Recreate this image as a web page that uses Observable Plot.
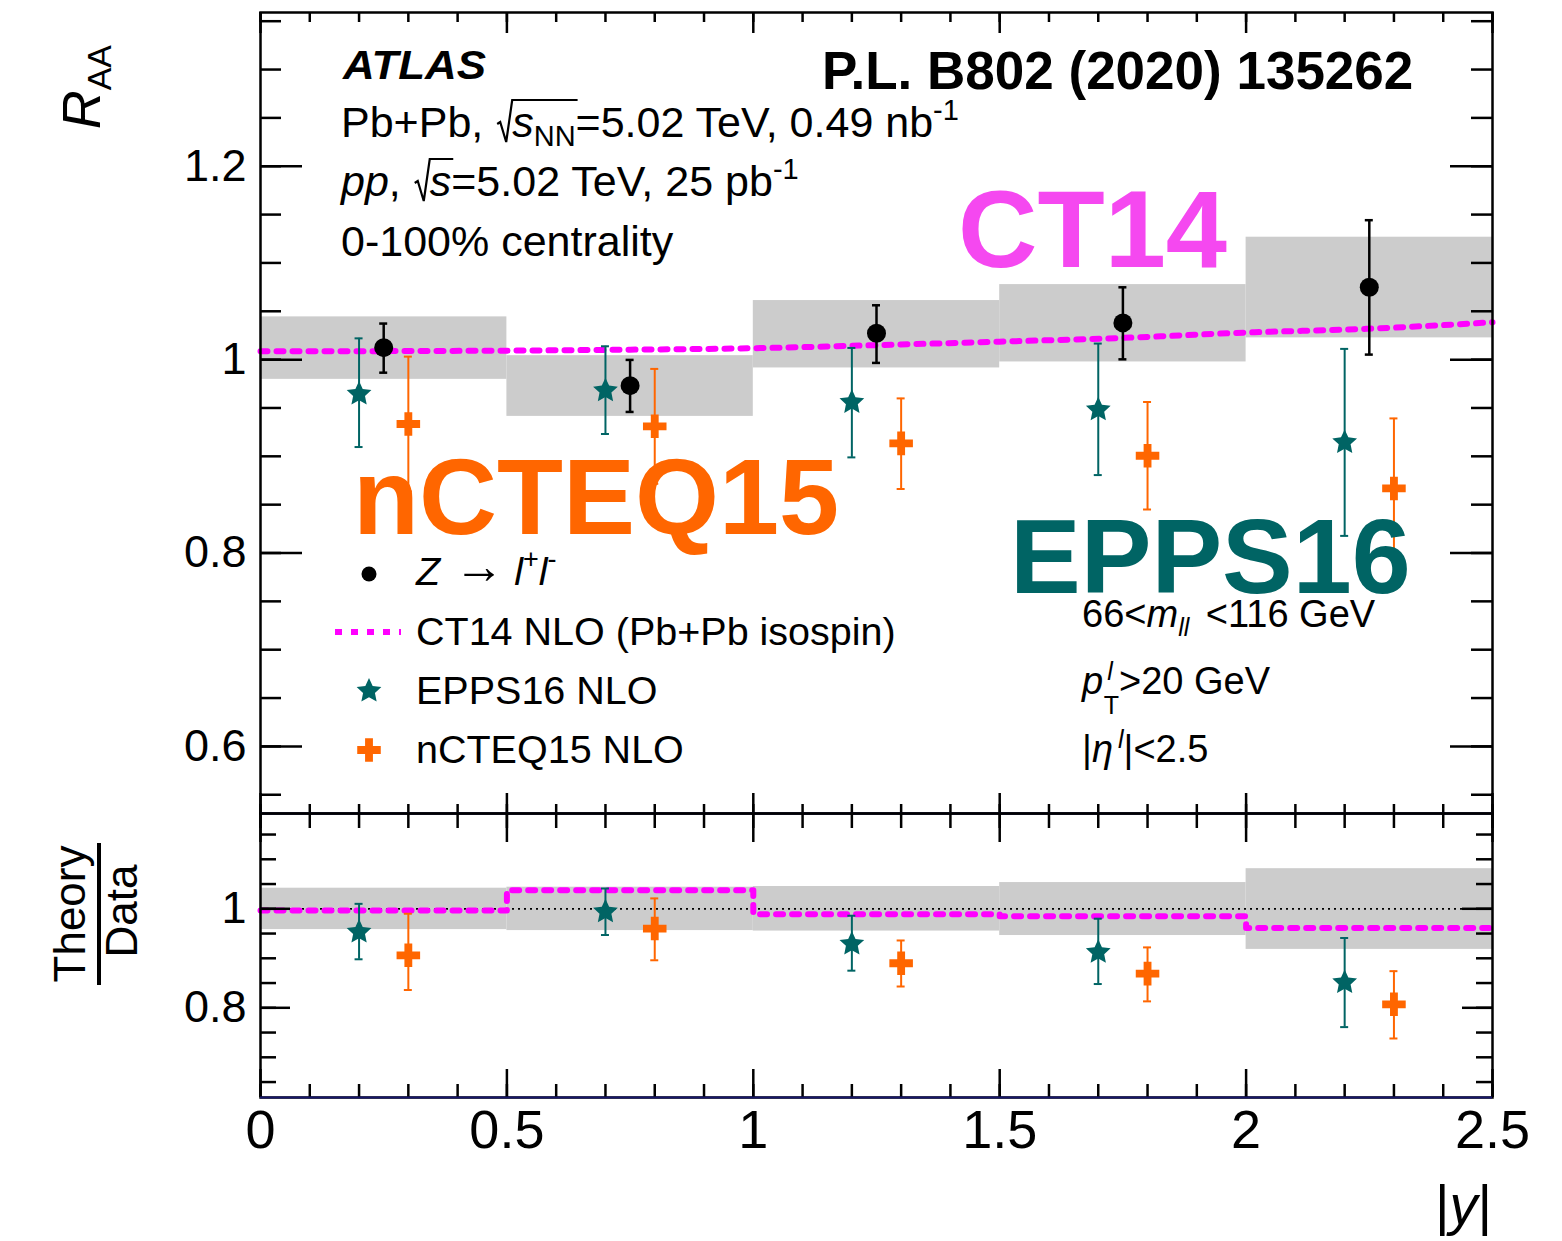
<!DOCTYPE html>
<html>
<head>
<meta charset="utf-8">
<script src="https://cdn.jsdelivr.net/npm/d3@7"></script>
<script src="https://cdn.jsdelivr.net/npm/@observablehq/plot@0.6"></script>
<style>
  body { margin: 0; background: #fff; }
  #chart { position: relative; width: 1562px; height: 1241px; font-family: "Liberation Sans", Arial, Helvetica, sans-serif; }
  #chart > svg { position: absolute; left: 0; overflow: visible; }
</style>
</head>
<body>
<div id="chart"></div>
<script>
// |y| bins of the Z boson measurement
const binLo = [0, 0.5, 1.0, 1.5, 2.0];
const binHi = [0.5, 1.0, 1.5, 2.0, 2.5];
const dataX = [0.25, 0.75, 1.25, 1.75, 2.25];
const eppsX = [0.2, 0.7, 1.2, 1.7, 2.2];
const ncteqX = [0.3, 0.8, 1.3, 1.8, 2.3];

// Z -> l+l- R_AA with statistical (bars) and systematic (boxes) uncertainties
const raa = [1.0124, 0.9731, 1.0272, 1.0380, 1.0748];
const raaStatLo = [0.9865, 0.9459, 0.9966, 1.0003, 1.0052];
const raaStatHi = [1.0373, 0.9997, 1.0562, 1.0748, 1.1442];
const raaSysLo = [0.9796, 0.9413, 0.9914, 0.9976, 1.0225];
const raaSysHi = [1.0442, 1.0041, 1.0611, 1.0776, 1.1266];

// CT14 NLO (Pb+Pb isospin) curve
const ct14X = [0, 0.25, 0.5, 0.75, 1.0, 1.25, 1.5, 1.75, 2.0, 2.25, 2.5];
const ct14Raa = [1.0086, 1.0088, 1.0093, 1.0103, 1.0118, 1.0150, 1.0186, 1.0225, 1.0280, 1.0320, 1.0386];

// EPPS16 NLO predictions
const epps = [0.9645, 0.9679, 0.9558, 0.9482, 0.9144];
const eppsLo = [0.9096, 0.9231, 0.8989, 0.8806, 0.8177];
const eppsHi = [1.0220, 1.0138, 1.0121, 1.0166, 1.0111];

// nCTEQ15 NLO predictions
const ncteq = [0.9334, 0.9310, 0.9134, 0.9006, 0.8668];
const ncteqLo = [0.8637, 0.8716, 0.8662, 0.8450, 0.7944];
const ncteqHi = [1.0031, 0.9904, 0.9599, 0.9562, 0.9392];

// Theory / Data ratios
const ratioSysLo = [0.958, 0.956, 0.955, 0.946, 0.918];
const ratioSysHi = [1.0416, 1.0436, 1.045, 1.053, 1.081];
const ct14Ratio = [0.9966, 1.0377, 0.989, 0.985, 0.961];
const eppsRatio = [0.953, 0.994, 0.929, 0.912, 0.851];
const eppsRatioLo = [0.898, 0.947, 0.875, 0.848, 0.761];
const eppsRatioHi = [1.010, 1.041, 0.986, 0.980, 0.941];
const ncteqRatio = [0.906, 0.960, 0.890, 0.869, 0.807];
const ncteqRatioLo = [0.836, 0.896, 0.843, 0.813, 0.738];
const ncteqRatioHi = [0.990, 1.021, 0.936, 0.922, 0.874];

// Axis ticks and labels
const xMajor = [0, 0.5, 1, 1.5, 2, 2.5];
const xMinor = d3.range(0, 2.55, 0.1);
const topYLabels = [0.6, 0.8, 1, 1.2];
const topYMinor = d3.range(0.55, 1.355, 0.05);
const botYLabels = [0.8, 1];
const botYMinor = d3.range(0.65, 1.155, 0.05);

// layout
const W = 1562, H = 1241;
const mL = 260, mR = 70;
const pw = W - mL - mR;
const topH = 813, topMT = 12;
const botTop = 813, botH = H - botTop, botMB = 144;
const topDomain = [0.5306, 1.359];
const botDomain = [0.6188, 1.1925];
const FONT = '"Liberation Sans", Arial, Helvetica, sans-serif';

const BLACK = "#000000", TEAL = "#006464", ORANGE = "#ff6600", MAGENTA = "#ff00ff", GREY = "#cccccc";
const AXISLINE = "#16166a";

// five-pointed star with broad arms, r is the outer radius
const fatStar = {
  draw(context, size) {
    const R = Math.sqrt(size / Math.PI), r = R * 0.48;
    for (let i = 0; i < 10; i++) {
      const a = Math.PI * i / 5 - Math.PI / 2, rad = i % 2 ? r : R;
      const x = rad * Math.cos(a), y = rad * Math.sin(a);
      if (i) context.lineTo(x, y); else context.moveTo(x, y);
    }
    context.closePath();
  }
};
const STAR_R = 13, CROSS_R = 9.9, DOT_R = 9.5;

const rowsOf = (xs, c, lo, hi) => xs.map((x, i) => ({x, y: c[i], lo: lo[i], hi: hi[i]}));
const binsOf = (lo, hi) => binLo.map((x1, i) => ({x1, x2: binHi[i], lo: lo[i], hi: hi[i]}));

function series(rows, color, symbol, r, sw) {
  return [
    Plot.ruleX(rows, {x: "x", y1: "lo", y2: "hi", stroke: color, strokeWidth: sw}),
    Plot.ruleY(rows, {y: "lo", x1: "x", x2: "x", insetLeft: -4, insetRight: -4, stroke: color, strokeWidth: sw}),
    Plot.ruleY(rows, {y: "hi", x1: "x", x2: "x", insetLeft: -4, insetRight: -4, stroke: color, strokeWidth: sw}),
    Plot.dot(rows, {x: "x", y: "y", symbol, r, fill: color, stroke: "none"})
  ];
}

function frameTicks(ph, yMinor, yMajor, yMinLen, yMajLen, xTopMin, xTopMaj, xBotMin, xBotMaj) {
  const k = {stroke: BLACK, strokeWidth: 2.5};
  return [
    Plot.tickY(yMinor, {y: d => d, insetRight: pw - yMinLen, ...k}),
    Plot.tickY(yMajor, {y: d => d, insetRight: pw - yMajLen, ...k}),
    Plot.tickY(yMinor, {y: d => d, insetLeft: pw - yMinLen, ...k}),
    Plot.tickY(yMajor, {y: d => d, insetLeft: pw - yMajLen, ...k}),
    Plot.tickX(xMinor, {x: d => d, insetBottom: ph - xTopMin, ...k}),
    Plot.tickX(xMajor, {x: d => d, insetBottom: ph - xTopMaj, ...k}),
    Plot.tickX(xMinor, {x: d => d, insetTop: ph - xBotMin, ...k}),
    Plot.tickX(xMajor, {x: d => d, insetTop: ph - xBotMaj, ...k})
  ];
}

const chart = document.getElementById("chart");

// ---------- upper panel: R_AA ----------
const topPanel = Plot.plot({
  width: W, height: topH,
  marginLeft: mL, marginRight: mR, marginTop: topMT, marginBottom: 0,
  style: {fontFamily: FONT, background: "transparent", color: "black", overflow: "visible"},
  x: {domain: [0, 2.5], axis: null},
  y: {domain: topDomain},
  marks: [
    Plot.rect(binsOf(raaSysLo, raaSysHi), {x1: "x1", x2: "x2", y1: "lo", y2: "hi", fill: GREY}),
    Plot.line(ct14X.map((x, i) => ({x, y: ct14Raa[i]})), {x: "x", y: "y", stroke: MAGENTA, strokeWidth: 6, strokeDasharray: "7,9", curve: "monotone-x"}),
    ...series(rowsOf(eppsX, epps, eppsLo, eppsHi), TEAL, fatStar, STAR_R, 2),
    ...series(rowsOf(ncteqX, ncteq, ncteqLo, ncteqHi), ORANGE, "cross", CROSS_R, 2),
    ...series(rowsOf(dataX, raa, raaStatLo, raaStatHi), BLACK, "circle", DOT_R, 2.5),
    ...frameTicks(topH - topMT, topYMinor, topYLabels, 21, 42, 10, 21, 9, 20),
    Plot.axisY({ticks: topYLabels, tickSize: 0, tickPadding: 14, fontSize: 45, tickFormat: d => String(d), label: null}),
    Plot.frame({stroke: BLACK, strokeWidth: 2.5}),
    Plot.ruleY([topDomain[0]], {stroke: AXISLINE, strokeWidth: 2})
  ]
});
topPanel.style.top = "0px";
chart.appendChild(topPanel);

// ---------- lower panel: Theory / Data ----------
const stepRows = binLo.concat([binHi[binHi.length - 1]]).map((x, i) => ({x, y: ct14Ratio[Math.min(i, ct14Ratio.length - 1)]}));
const botPanel = Plot.plot({
  width: W, height: botH,
  marginLeft: mL, marginRight: mR, marginTop: 0, marginBottom: botMB,
  style: {fontFamily: FONT, background: "transparent", color: "black", overflow: "visible"},
  x: {domain: [0, 2.5]},
  y: {domain: botDomain},
  marks: [
    Plot.rect(binsOf(ratioSysLo, ratioSysHi), {x1: "x1", x2: "x2", y1: "lo", y2: "hi", fill: GREY}),
    Plot.ruleY([1], {stroke: BLACK, strokeWidth: 1.8, strokeDasharray: "2,4"}),
    Plot.line(stepRows, {x: "x", y: "y", stroke: MAGENTA, strokeWidth: 6, strokeDasharray: "7,9", curve: "step-after"}),
    ...series(rowsOf(eppsX, eppsRatio, eppsRatioLo, eppsRatioHi), TEAL, fatStar, STAR_R, 2),
    ...series(rowsOf(ncteqX, ncteqRatio, ncteqRatioLo, ncteqRatioHi), ORANGE, "cross", CROSS_R, 2),
    ...frameTicks(botH - botMB, botYMinor, botYLabels, 16, 30, 15, 29, 13, 28),
    Plot.axisY({ticks: botYLabels, tickSize: 0, tickPadding: 14, fontSize: 45, tickFormat: d => String(d), label: null}),
    Plot.axisX({ticks: xMajor, tickSize: 0, tickPadding: 12, fontSize: 54, tickFormat: d => String(d), label: null}),
    Plot.frame({stroke: BLACK, strokeWidth: 2.5}),
    Plot.ruleY([botDomain[0]], {stroke: AXISLINE, strokeWidth: 2})
  ]
});
botPanel.style.top = botTop + "px";
chart.appendChild(botPanel);

// ---------- labels, legend and annotations ----------
const ov = d3.select(chart).append("svg")
  .attr("width", W).attr("height", H)
  .style("top", "0px").style("pointer-events", "none")
  .attr("font-family", FONT);

ov.html(`
  <text x="343" y="79" font-size="40" font-weight="bold" font-style="italic" textLength="143" lengthAdjust="spacingAndGlyphs">ATLAS</text>
  <text x="822" y="89" font-size="53" font-weight="bold">P.L. B802 (2020) 135262</text>
  <text id="l1" x="341" y="137" font-size="43">Pb+Pb, <tspan dx="17" font-style="italic">s</tspan><tspan font-size="29" dy="9">NN</tspan><tspan dy="-9">=5.02 TeV, 0.49 nb</tspan><tspan font-size="29" dy="-17">-1</tspan></text>
  <text id="l2" x="341" y="196" font-size="43"><tspan font-style="italic">pp</tspan>, <tspan dx="17" font-style="italic">s</tspan>=5.02 TeV, 25 pb<tspan font-size="29" dy="-17">-1</tspan></text>
  <text x="341" y="256" font-size="43">0-100% centrality</text>

  <text x="958" y="267" font-size="110" font-weight="bold" fill="#f548f0">CT14</text>
  <text x="353" y="534" font-size="108" font-weight="bold" fill="${ORANGE}">nCTEQ15</text>
  <text x="1010" y="593" font-size="106" font-weight="bold" fill="${TEAL}">EPPS16</text>

  <text x="416" y="585" font-size="39.5"><tspan font-style="italic">Z</tspan><tspan dx="14" font-size="50" dy="-2">→</tspan><tspan dx="10" dy="2" font-style="italic">l</tspan><tspan font-size="27" dy="-17">+</tspan><tspan font-style="italic" dy="17">l</tspan><tspan font-size="27" dy="-17">-</tspan></text>
  <text x="416" y="645" font-size="39.5">CT14 NLO (Pb+Pb isospin)</text>
  <text x="416" y="704" font-size="39.5">EPPS16 NLO</text>
  <text x="416" y="763" font-size="39.5">nCTEQ15 NLO</text>

  <text x="1082" y="627" font-size="38">66&lt;<tspan font-style="italic">m</tspan><tspan font-style="italic" font-size="25" dy="9">ll</tspan><tspan dx="6" dy="-9"> &lt;116 GeV</tspan></text>
  <text x="1082" y="694" font-size="38"><tspan font-style="italic">p</tspan><tspan font-style="italic" font-size="25" dx="4" dy="-14">l</tspan><tspan font-size="25" dx="-9" dy="34">T</tspan><tspan dy="-20">&gt;20 GeV</tspan></text>
  <text x="1082" y="762" font-size="38">|<tspan font-style="italic">η</tspan><tspan font-style="italic" font-size="25" dx="5" dy="-14">l</tspan><tspan dy="14">|&lt;2.5</tspan></text>

  <text transform="translate(100,45) rotate(-90)" text-anchor="end" font-size="54"><tspan font-style="italic">R</tspan><tspan font-size="34" dy="11">AA</tspan></text>
  <text transform="translate(85,914) rotate(-90)" text-anchor="middle" font-size="44">Theory</text>
  <text transform="translate(137,911) rotate(-90)" text-anchor="middle" font-size="44">Data</text>
  <text x="1492" y="1224" text-anchor="end" font-size="56">|<tspan font-style="italic">y</tspan>|</text>
`);

// fraction bar of the ratio-panel title
ov.append("line").attr("x1", 99).attr("x2", 99).attr("y1", 843).attr("y2", 985)
  .attr("stroke", BLACK).attr("stroke-width", 4);

// square-root signs drawn in front of s_NN and s
function radical(id, iFirst, iLast) {
  const t = ov.select("#" + id).node();
  const p = t.getStartPositionOfChar(iFirst);
  const e = t.getEndPositionOfChar(iLast);
  const by = +t.getAttribute("y");
  const xs = p.x - 1;
  ov.append("path")
    .attr("d", `M${xs - 14},${by - 13} L${xs - 11},${by - 15} L${xs - 5},${by + 5} L${xs + 1},${by - 37} L${e.x + 2},${by - 37}`)
    .attr("fill", "none").attr("stroke", BLACK).attr("stroke-width", 2.2).attr("stroke-linejoin", "miter");
}
radical("l1", 7, 9);
radical("l2", 4, 4);

// legend markers, drawn with the same symbols as the plot
const lg = ov.append("g");
lg.append("circle").attr("cx", 369).attr("cy", 574).attr("r", 7.5).attr("fill", BLACK);
lg.append("line").attr("x1", 335).attr("x2", 401).attr("y1", 632).attr("y2", 632)
  .attr("stroke", MAGENTA).attr("stroke-width", 6).attr("stroke-dasharray", "7,9");
lg.append("path").attr("transform", "translate(369,691)")
  .attr("d", d3.symbol(fatStar, Math.PI * STAR_R * STAR_R)()).attr("fill", TEAL);
lg.append("path").attr("transform", "translate(369,750)")
  .attr("d", d3.symbol(d3.symbolCross, Math.PI * CROSS_R * CROSS_R)()).attr("fill", ORANGE);
</script>
</body>
</html>
